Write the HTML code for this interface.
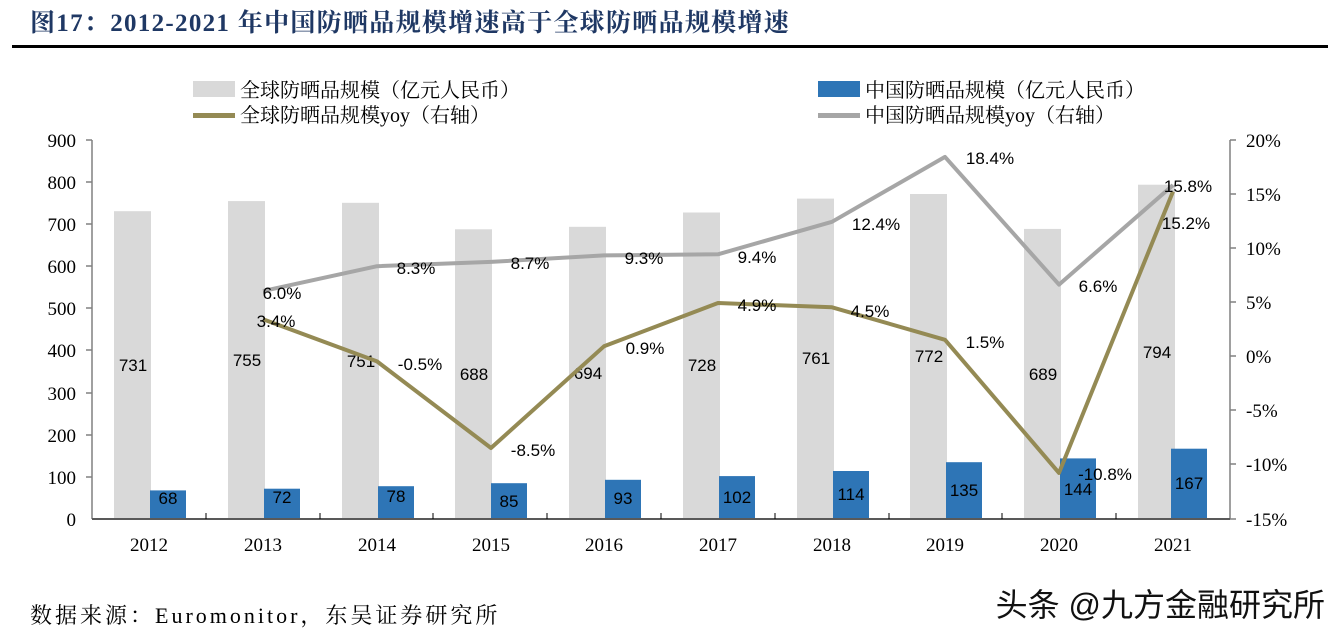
<!DOCTYPE html>
<html><head><meta charset="utf-8"><style>
body{margin:0;background:#fff;}
svg{display:block}
.s{font-family:"Liberation Serif","Noto Serif CJK SC",serif;}
.a{font-family:"Liberation Sans","Noto Sans CJK SC",sans-serif;}
</style></head><body>
<svg width="1340" height="639" viewBox="0 0 1340 639" xmlns="http://www.w3.org/2000/svg">
<text x="30" y="31" class="s" font-size="25" font-weight="bold" letter-spacing="1.3" fill="#1F3864">图17：2012-2021 年中国防晒品规模增速高于全球防晒品规模增速</text>
<rect x="12" y="45" width="1316" height="3" fill="#000"/>
<!-- legend -->
<rect x="193" y="81" width="42" height="16" fill="#D9D9D9"/>
<text x="240" y="97" class="s" font-size="20" fill="#000">全球防晒品规模（亿元人民币）</text>
<rect x="193" y="113" width="42" height="5" fill="#948A54"/>
<text x="240" y="122" class="s" font-size="20" fill="#000">全球防晒品规模yoy（右轴）</text>
<rect x="818" y="81" width="42" height="16" fill="#2E75B6"/>
<text x="865" y="97" class="s" font-size="20" fill="#000">中国防晒品规模（亿元人民币）</text>
<rect x="818" y="113" width="42" height="5" fill="#A6A6A6"/>
<text x="865" y="122" class="s" font-size="20" fill="#000">中国防晒品规模yoy（右轴）</text>
<!-- axes -->
<g class="s" font-size="19" fill="#000">
<text x="76" y="147" text-anchor="end">900</text>
<text x="76" y="189" text-anchor="end">800</text>
<text x="76" y="231" text-anchor="end">700</text>
<text x="76" y="273" text-anchor="end">600</text>
<text x="76" y="315" text-anchor="end">500</text>
<text x="76" y="357" text-anchor="end">400</text>
<text x="76" y="400" text-anchor="end">300</text>
<text x="76" y="442" text-anchor="end">200</text>
<text x="76" y="484" text-anchor="end">100</text>
<text x="76" y="526" text-anchor="end">0</text>
<text x="1246" y="147">20%</text>
<text x="1246" y="201">15%</text>
<text x="1246" y="255">10%</text>
<text x="1246" y="309">5%</text>
<text x="1246" y="363">0%</text>
<text x="1246" y="417">-5%</text>
<text x="1246" y="471">-10%</text>
<text x="1246" y="526">-15%</text>
</g>
<line x1="92" y1="140" x2="92" y2="519" stroke="#808080" stroke-width="1.5"/>
<line x1="1230" y1="140" x2="1230" y2="519" stroke="#808080" stroke-width="1.5"/>
<g stroke="#808080" stroke-width="1.5">
<line x1="86" y1="140" x2="92" y2="140"/><line x1="86" y1="182" x2="92" y2="182"/><line x1="86" y1="224" x2="92" y2="224"/><line x1="86" y1="266" x2="92" y2="266"/><line x1="86" y1="308" x2="92" y2="308"/><line x1="86" y1="350" x2="92" y2="350"/><line x1="86" y1="393" x2="92" y2="393"/><line x1="86" y1="435" x2="92" y2="435"/><line x1="86" y1="477" x2="92" y2="477"/>
<line x1="1230" y1="140" x2="1236" y2="140"/><line x1="1230" y1="194" x2="1236" y2="194"/><line x1="1230" y1="248" x2="1236" y2="248"/><line x1="1230" y1="302" x2="1236" y2="302"/><line x1="1230" y1="356" x2="1236" y2="356"/><line x1="1230" y1="410" x2="1236" y2="410"/><line x1="1230" y1="464" x2="1236" y2="464"/><line x1="1230" y1="519" x2="1236" y2="519"/>
</g>
<!-- bars -->
<g>
<rect x="114" y="211.2" width="37" height="307.8" fill="#D9D9D9"/><rect x="150" y="490.4" width="36" height="28.6" fill="#2E75B6"/>
<rect x="228" y="201.1" width="37" height="317.9" fill="#D9D9D9"/><rect x="264" y="488.7" width="36" height="30.3" fill="#2E75B6"/>
<rect x="342" y="202.8" width="37" height="316.2" fill="#D9D9D9"/><rect x="378" y="486.2" width="36" height="32.8" fill="#2E75B6"/>
<rect x="455" y="229.3" width="37" height="289.7" fill="#D9D9D9"/><rect x="491" y="483.2" width="36" height="35.8" fill="#2E75B6"/>
<rect x="569" y="226.8" width="37" height="292.2" fill="#D9D9D9"/><rect x="605" y="479.8" width="36" height="39.2" fill="#2E75B6"/>
<rect x="683" y="212.5" width="37" height="306.5" fill="#D9D9D9"/><rect x="719" y="476.1" width="36" height="42.9" fill="#2E75B6"/>
<rect x="797" y="198.6" width="37" height="320.4" fill="#D9D9D9"/><rect x="833" y="471.0" width="36" height="48.0" fill="#2E75B6"/>
<rect x="910" y="194.0" width="37" height="325.0" fill="#D9D9D9"/><rect x="946" y="462.2" width="36" height="56.8" fill="#2E75B6"/>
<rect x="1024" y="228.9" width="37" height="290.1" fill="#D9D9D9"/><rect x="1060" y="458.4" width="36" height="60.6" fill="#2E75B6"/>
<rect x="1138" y="184.7" width="37" height="334.3" fill="#D9D9D9"/><rect x="1171" y="448.7" width="36" height="70.3" fill="#2E75B6"/>
</g>
<line x1="92" y1="519" x2="1230" y2="519" stroke="#595959" stroke-width="2"/>
<g stroke="#000" stroke-width="1">
<line x1="206" y1="513" x2="206" y2="519"/><line x1="320" y1="513" x2="320" y2="519"/><line x1="433" y1="513" x2="433" y2="519"/><line x1="547" y1="513" x2="547" y2="519"/><line x1="661" y1="513" x2="661" y2="519"/><line x1="775" y1="513" x2="775" y2="519"/><line x1="889" y1="513" x2="889" y2="519"/><line x1="1002" y1="513" x2="1002" y2="519"/><line x1="1116" y1="513" x2="1116" y2="519"/>
</g>
<g class="a" font-size="17" fill="#000" text-anchor="middle">
<text x="133" y="371">731</text><text x="247" y="366">755</text><text x="361" y="367">751</text><text x="474" y="380">688</text><text x="588" y="379">694</text><text x="702" y="371">728</text><text x="816" y="364">761</text><text x="929" y="362">772</text><text x="1043" y="380">689</text><text x="1157" y="358">794</text>
<text x="168" y="504">68</text><text x="282" y="503">72</text><text x="396" y="502">78</text><text x="509" y="507">85</text><text x="623" y="504">93</text><text x="737" y="503">102</text><text x="851" y="500">114</text><text x="964" y="496">135</text><text x="1078" y="495">144</text><text x="1189" y="489">167</text>
</g>
<!-- lines -->
<polyline fill="none" stroke="#A6A6A6" stroke-width="4" stroke-linejoin="round" points="263,291.1 377,266.2 491,261.9 604,255.4 718,254.3 832,221.8 945,156.9 1059,284.6 1173,185.1"/>
<polyline fill="none" stroke="#948A54" stroke-width="4" stroke-linejoin="round" points="263,319.2 377,361.4 491,448.0 604,346.3 718,303.0 832,307.3 945,339.8 1059,472.9 1173,191.5"/>
<g class="a" font-size="17" fill="#000" text-anchor="middle">
<text x="282" y="299">6.0%</text><text x="276" y="327">3.4%</text>
<text x="416" y="274">8.3%</text><text x="420" y="370">-0.5%</text>
<text x="530" y="269">8.7%</text><text x="533" y="456">-8.5%</text>
<text x="644" y="264">9.3%</text><text x="645" y="354">0.9%</text>
<text x="757" y="263">9.4%</text><text x="757" y="311">4.9%</text>
<text x="876" y="230">12.4%</text><text x="870" y="317">4.5%</text>
<text x="990" y="164">18.4%</text><text x="985" y="348">1.5%</text>
<text x="1098" y="292">6.6%</text><text x="1105" y="480">-10.8%</text>
<text x="1188" y="192">15.8%</text><text x="1186" y="229">15.2%</text>
</g>
<g class="s" font-size="19" fill="#000" text-anchor="middle">
<text x="149" y="551">2012</text><text x="263" y="551">2013</text><text x="377" y="551">2014</text><text x="491" y="551">2015</text><text x="604" y="551">2016</text><text x="718" y="551">2017</text><text x="832" y="551">2018</text><text x="945" y="551">2019</text><text x="1059" y="551">2020</text><text x="1173" y="551">2021</text>
</g>
<text x="30" y="623" class="s" font-size="22" letter-spacing="3" fill="#000">数据来源：Euromonitor，东吴证券研究所</text>
<text x="1325" y="616" text-anchor="end" class="a" font-size="32" fill="#111" stroke="#fff" stroke-width="1.2" paint-order="stroke">头条 @九方金融研究所</text>
</svg>
</body></html>
